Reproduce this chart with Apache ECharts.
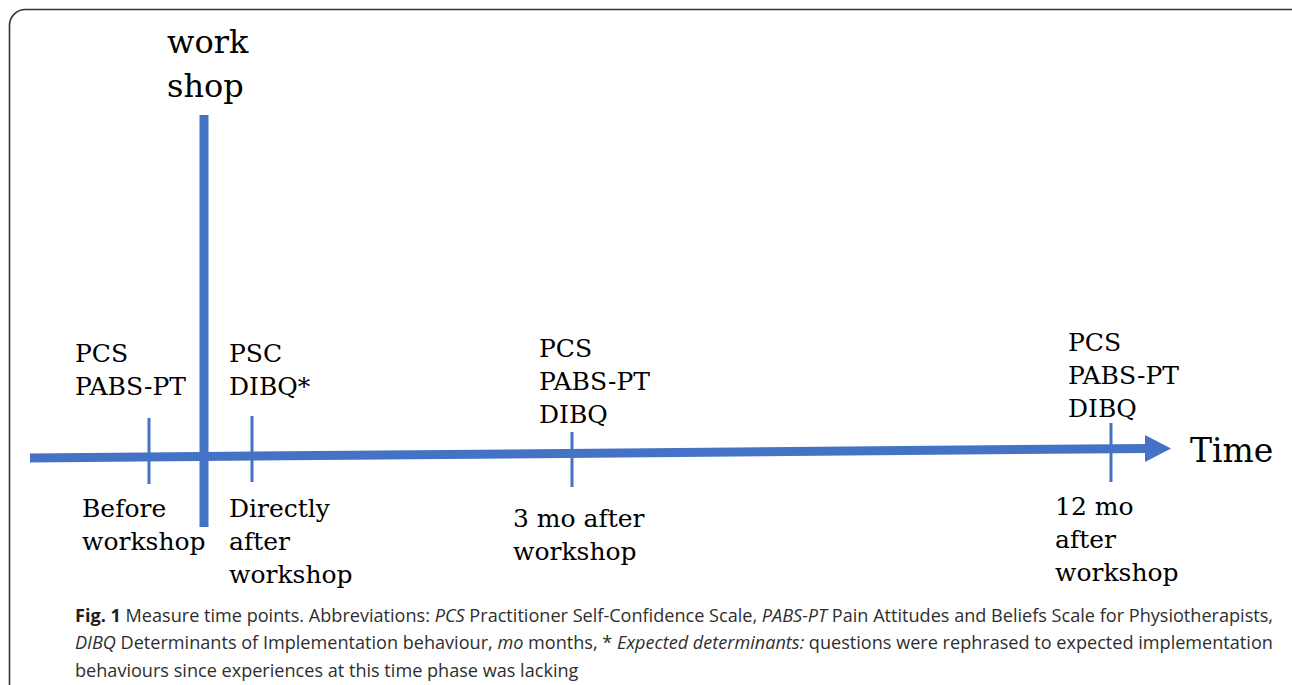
<!DOCTYPE html>
<html>
<head>
<meta charset="utf-8">
<script src="https://cdn.jsdelivr.net/npm/echarts@6/dist/echarts.min.js"></script>
<style>
html,body{margin:0;padding:0;background:#fff;}
#chart{width:1292px;height:685px;}
</style>
</head>
<body>
<div id="chart"></div>
<script>
// ---- data (schematic timeline units) ----
const timePoints = ['Before\nworkshop', 'Directly\nafter\nworkshop', '3 mo after\nworkshop', '12 mo\nafter\nworkshop'];
const measures = [['PCS', 'PABS-PT'], ['PSC', 'DIBQ*'], ['PCS', 'PABS-PT', 'DIBQ'], ['PCS', 'PABS-PT', 'DIBQ']];
const timePos = [149, 252, 572, 1111];
const tickTop = [418, 416, 432, 423];
const tickBottom = [484, 482, 487, 482];
const measureX = [75, 229, 539, 1068];
const measureBaseline = [395, 395, 423, 417];
const periodX = [82, 229, 513, 1055];
const periodBaseline = [517, 517, 527, 515];
const axisStart = [30, 458];
const axisEnd = [1145, 448.5];
const arrowTip = [1171, 448.5];
const workshopPos = 204;
const workshopSpan = [115, 527];

const BLUE = '#4472C4';
const SERIF = '"DejaVu Serif", serif';
const ASC = 0.36; // baseline offset from line middle (em)

const chart = echarts.init(document.getElementById('chart'), null, {renderer: 'svg'});

function textBlock(text, x, baseline, size, lh, anchor) {
  const lines = text.split('\n').length;
  let top;
  if (anchor === 'first') top = baseline - lh / 2 - ASC * size;
  else top = baseline - lh / 2 - ASC * size - (lines - 1) * lh;
  return {type: 'text', style: {text: text, x: x, y: top, font: size + 'px ' + SERIF, fill: '#000', lineHeight: lh, align: 'left', verticalAlign: 'top'}};
}

const caption =
  '{b|Fig. 1} Measure time points. Abbreviations: {i|PCS} Practitioner Self-Confidence Scale, {i|PABS-PT} Pain Attitudes and Beliefs Scale for Physiotherapists,\n' +
  '{i|DIBQ} Determinants of Implementation behaviour, {i|mo} months, * {i|Expected determinants:} questions were rephrased to expected implementation\n' +
  'behaviours since experiences at this time phase was lacking';

const CAP = 18.1;
const option = {
  animation: false,
  grid: {left: 0, right: 0, top: 0, bottom: 0},
  xAxis: {type: 'value', min: 0, max: 1292, show: false},
  yAxis: {type: 'value', min: 0, max: 685, inverse: true, show: false},
  graphic: [
    {type: 'rect', shape: {x: 9.5, y: 9.5, width: 1300, height: 700, r: 16}, style: {fill: 'none', stroke: '#333', lineWidth: 1.6}, z: 10},
    {type: 'text', left: 75, top: 601, style: {
      text: caption, font: CAP + 'px "Open Sans"', fill: '#2e2e2e', lineHeight: 27.5,
      rich: {
        b: {fontWeight: 'bold', fontFamily: 'Open Sans', fontSize: CAP, fill: '#1e1e1e', lineHeight: 27.5},
        i: {fontStyle: 'italic', fontFamily: 'Open Sans', fontSize: CAP, fill: '#2e2e2e', lineHeight: 27.5}
      }
    }}
  ],
  series: [
    {
      type: 'custom',
      coordinateSystem: 'cartesian2d',
      data: [[0]],
      renderItem: function (params, api) {
        const a = api.coord(axisStart), b = api.coord(axisEnd), t = api.coord(arrowTip);
        const w1 = api.coord([workshopPos, workshopSpan[0]]), w2 = api.coord([workshopPos, workshopSpan[1]]);
        const half = 13.5;
        return {type: 'group', children: [
          {type: 'line', shape: {x1: a[0], y1: a[1], x2: b[0] + 2, y2: b[1]}, style: {stroke: BLUE, lineWidth: 9}},
          {type: 'polygon', shape: {points: [[b[0], b[1] - half], [t[0], t[1]], [b[0], b[1] + half]]}, style: {fill: BLUE}},
          {type: 'line', shape: {x1: w1[0], y1: w1[1], x2: w2[0], y2: w2[1]}, style: {stroke: BLUE, lineWidth: 9}},
          textBlock('work\nshop', w1[0] - 37, 54, 32, 44, 'first'),
          textBlock('Time', t[0] + 19, 462, 33, 33, 'first')
        ]};
      }
    },
    {
      type: 'custom',
      coordinateSystem: 'cartesian2d',
      data: timePos.map((x, i) => [x, i]),
      renderItem: function (params, api) {
        const i = params.dataIndex;
        const p1 = api.coord([timePos[i], tickTop[i]]);
        const p2 = api.coord([timePos[i], tickBottom[i]]);
        const m = api.coord([measureX[i], measureBaseline[i]]);
        const q = api.coord([periodX[i], periodBaseline[i]]);
        return {type: 'group', children: [
          {type: 'line', shape: {x1: p1[0], y1: p1[1], x2: p2[0], y2: p2[1]}, style: {stroke: BLUE, lineWidth: 3}},
          textBlock(measures[i].join('\n'), m[0], m[1], 25, 33, 'last'),
          textBlock(timePoints[i], q[0], q[1], 25, 33, 'first')
        ]};
      }
    }
  ]
};
chart.setOption(option);
</script>
</body>
</html>
